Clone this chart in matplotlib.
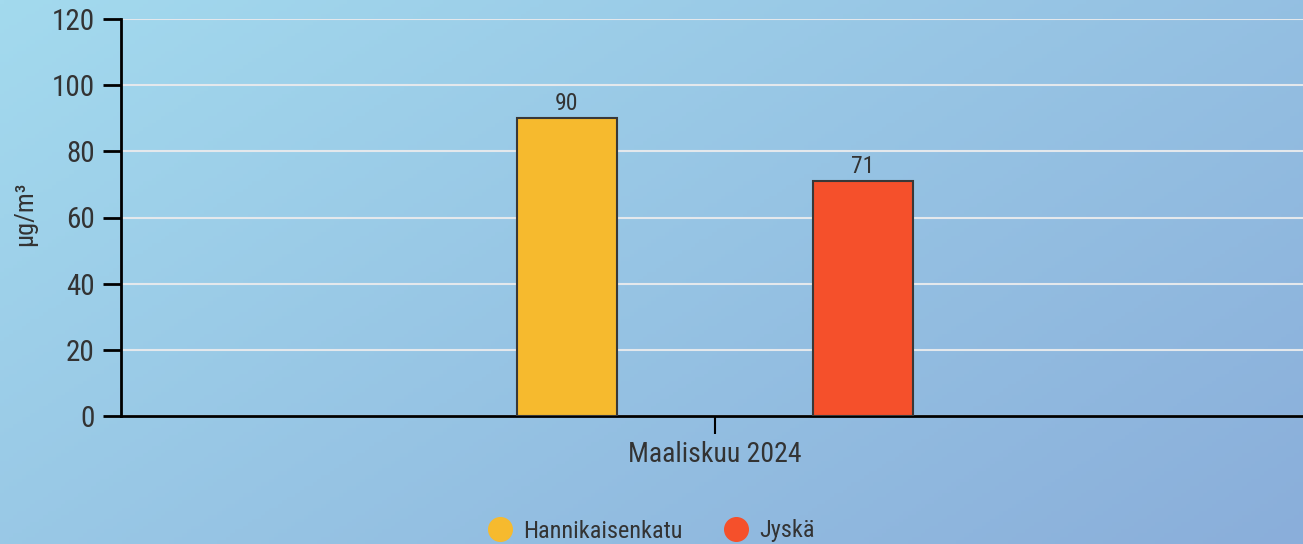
import matplotlib
matplotlib.use("Agg")
import matplotlib.pyplot as plt
from matplotlib import font_manager as fm
from matplotlib.lines import Line2D
import numpy as np

categories = ["Maaliskuu 2024"]
series_names = ["Hannikaisenkatu", "Jyskä"]
series_values = [[90], [71]]
series_colors = ["#F6BA2E", "#F5502B"]
y_ticks = [0, 20, 40, 60, 80, 100, 120]
y_label = "µg/m³"

avail = {f.name for f in fm.fontManager.ttflist}
fam = "Roboto"
for cand in ["Roboto Condensed", "Liberation Sans Narrow", "Roboto"]:
    if cand in avail:
        fam = cand
        break
plt.rcParams['font.family'] = [fam, 'DejaVu Sans']

W, H = 1303, 544
fig = plt.figure(figsize=(W / 100, H / 100), dpi=100)

# background gradient
bg = fig.add_axes([0, 0, 1, 1], zorder=-10)
xx, yy = np.meshgrid(np.linspace(0, 1, 300), np.linspace(0, 1, 150))
t = (xx * 0.6 + yy * 0.4)
c0 = np.array([163, 218, 238]) / 255
c1 = np.array([138, 174, 218]) / 255
img = c0[None, None, :] * (1 - t[..., None]) + c1[None, None, :] * t[..., None]
bg.imshow(img, aspect='auto', extent=[0, 1, 0, 1], origin='upper')
bg.axis('off')

left, right = 121 / W, 1.0
bottom, top = 1 - 416 / H, 1 - 19 / H
ax = fig.add_axes([left, bottom, right - left, top - bottom])
ax.patch.set_alpha(0)

width_px = 1182
bw = 100 / width_px
off = 148 / width_px
x = np.arange(len(categories))
for i, (name, vals, col) in enumerate(zip(series_names, series_values, series_colors)):
    pos = x + (i - 0.5) * 2 * off
    bars = ax.bar(pos, vals, width=bw, color=col, edgecolor="#383838", linewidth=1.5, zorder=3)
    for b, v in zip(bars, vals):
        ax.text(b.get_x() + b.get_width() / 2, v + 0.9, f"{v}", ha='center', va='bottom',
                fontsize=17, color="#333333", zorder=4)

ax.set_xlim(-0.5025, 0.4975)
ax.set_ylim(0, 120)
ax.set_yticks(y_ticks)
ax.set_yticklabels([str(v) for v in y_ticks])
ax.set_xticks(x)
ax.set_xticklabels(categories)
ax.grid(axis='y', color="#E4E8EC", linewidth=1.5, zorder=0)
ax.set_axisbelow(True)
for s in ['top', 'right']:
    ax.spines[s].set_visible(False)
for s in ['left', 'bottom']:
    ax.spines[s].set_color('black')
    ax.spines[s].set_linewidth(2)
ax.tick_params(axis='y', length=13, width=2, color='black', labelsize=21, labelcolor="#333333", pad=6)
ax.tick_params(axis='x', length=13, width=1.5, color='black', labelsize=20, labelcolor="#333333", pad=5)
ax.set_ylabel(y_label, fontsize=19, color="#333333")
ax.yaxis.set_label_coords(-(121 - 25) / 1182, 0.51)
ax.yaxis.label.set_va('center')

handles = [Line2D([0], [0], marker='o', linestyle='', markersize=17, markerfacecolor=c,
                  markeredgecolor=c) for c in series_colors]
fig.legend(handles, series_names, loc='center', bbox_to_anchor=(0.5, 1 - 531 / H), ncol=2,
           frameon=False, fontsize=17.5, labelcolor="#333333", handletextpad=0.45, columnspacing=1.7,
           handlelength=1.0)

fig.savefig("out.png", dpi=100)
